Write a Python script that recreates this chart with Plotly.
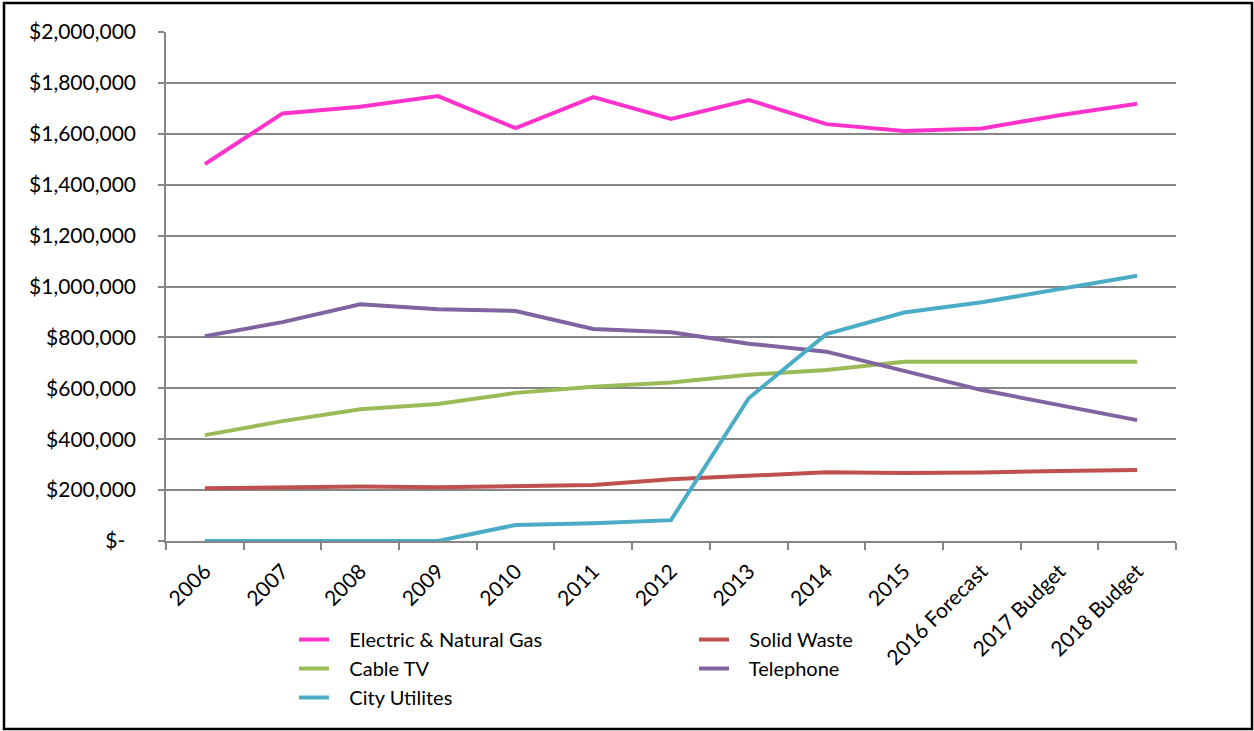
import plotly.graph_objects as go

categories = ["2006", "2007", "2008", "2009", "2010", "2011", "2012", "2013",
              "2014", "2015", "2016 Forecast", "2017 Budget", "2018 Budget"]

electric_gas = [1481000, 1680000, 1706000, 1748000, 1622000, 1744000, 1658000,
                1733000, 1638000, 1611000, 1621000, 1673000, 1718000]
solid_waste = [207000, 211000, 214000, 211000, 217000, 220000, 243000,
               255000, 270000, 267000, 269000, 275000, 279000]
cable_tv = [416000, 471000, 518000, 538000, 582000, 606000, 623000,
            653000, 672000, 704000, 704000, 704000, 704000]
telephone = [805000, 860000, 930000, 911000, 904000, 833000, 820000,
             775000, 744000, 669000, 593000, 534000, 475000]
city_utilities = [0, 0, 0, 0, 63000, 70000, 82000,
                  561000, 813000, 898000, 938000, 990000, 1042000]

y_tickvals = [0, 200000, 400000, 600000, 800000, 1000000, 1200000,
              1400000, 1600000, 1800000, 2000000]
y_ticktext = ["$-\u00a0\u00a0", "$200,000", "$400,000", "$600,000", "$800,000",
              "$1,000,000", "$1,200,000", "$1,400,000", "$1,600,000",
              "$1,800,000", "$2,000,000"]

series = [
    ("Electric & Natural Gas", electric_gas, "#FF33CC"),
    ("Solid Waste", solid_waste, "#C0504D"),
    ("Cable TV", cable_tv, "#9BBB59"),
    ("Telephone", telephone, "#8064A2"),
    ("City Utilites", city_utilities, "#4BACC6"),
]

FONT = "Lato, 'Open Sans', sans-serif"
PAD = "\u00a0\u00a0\u00a0"

fig = go.Figure()
for name, vals, color in series:
    fig.add_trace(go.Scatter(
        x=categories, y=vals, name=PAD + name, mode="lines",
        line=dict(color=color, width=4),
    ))

W, H = 1254, 731
L, R, T, B = 166, 78, 32, 190
pw, ph = W - L - R, H - T - B

def px_x(p):
    return (p - L) / pw

def px_y(p):
    return (H - B - p) / ph

fig.update_layout(
    width=W, height=H,
    margin=dict(l=L, r=R, t=T, b=B),
    paper_bgcolor="white", plot_bgcolor="white",
    font=dict(family=FONT, size=21, color="black"),
    showlegend=True,
    legend=dict(
        orientation="h",
        x=px_x(294), y=px_y(620), xanchor="left", yanchor="top",
        entrywidth=355, entrywidthmode="pixels",
        font=dict(size=20, family=FONT),
        bgcolor="rgba(0,0,0,0)",
        traceorder="normal",
    ),
    xaxis=dict(
        type="category",
        tickson="boundaries",
        ticks="outside", ticklen=7, tickcolor="#868686", tickwidth=1.5,
        showline=True, linecolor="#868686", linewidth=1.5,
        showgrid=False,
        tickangle=-45,
        tickfont=dict(size=21, family=FONT),
        ticklabelstandoff=8,
        range=[-0.5, len(categories) - 0.5],
    ),
    yaxis=dict(
        range=[0, 2000000],
        tickvals=y_tickvals, ticktext=y_ticktext,
        ticks="outside", ticklen=6, tickcolor="#868686", tickwidth=1.5,
        showline=True, linecolor="#868686", linewidth=1.5,
        showgrid=True, gridcolor="#868686", gridwidth=1.5,
        zeroline=False,
        tickfont=dict(size=21, family=FONT),
        ticklabelstandoff=18,
    ),
    shapes=[dict(
        type="rect", xref="paper", yref="paper",
        x0=px_x(4), x1=px_x(1252), y0=px_y(729), y1=px_y(3),
        line=dict(color="black", width=2.5), fillcolor="rgba(0,0,0,0)",
        layer="above",
    )],
)

fig.write_html("out.html")
